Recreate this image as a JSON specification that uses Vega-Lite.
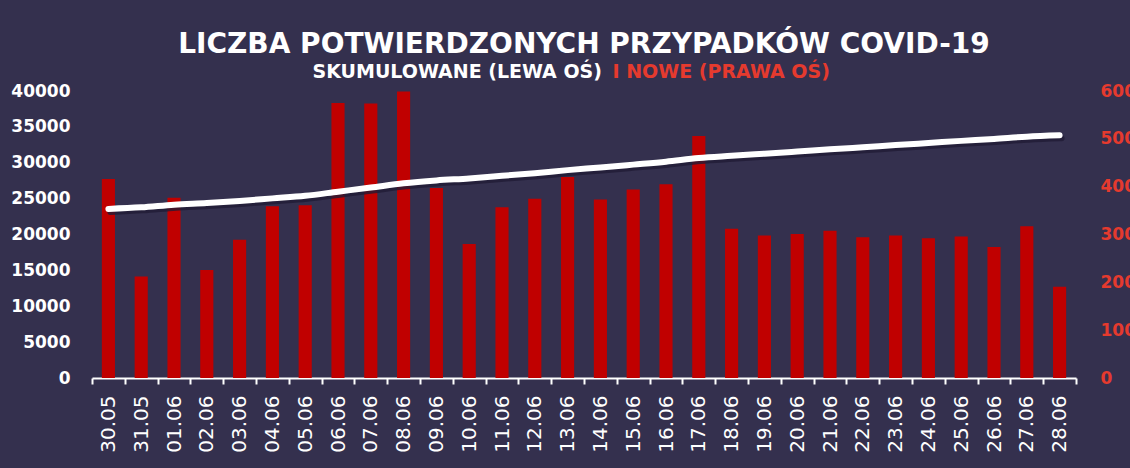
{
  "$schema": "https://vega.github.io/schema/vega-lite/v6.json",
  "width": 984,
  "height": 287,
  "autosize": {"type": "none"},
  "padding": {"left": 92, "top": 91, "right": 54, "bottom": 90},
  "background": "#34304e",
  "config": {"view": {"stroke": null}},
  "title": {
    "text": "LICZBA POTWIERDZONYCH PRZYPADKÓW COVID-19",
    "font": "DejaVu Sans",
    "fontWeight": "bold",
    "fontSize": 28,
    "color": "#ffffff",
    "anchor": "middle",
    "offset": 3
  },
  "data": {
    "values": [
      {"data": "30.05", "nowe": 416, "skumulowane": 23571},
      {"data": "31.05", "nowe": 212, "skumulowane": 23783},
      {"data": "01.06", "nowe": 377, "skumulowane": 24160},
      {"data": "02.06", "nowe": 226, "skumulowane": 24386},
      {"data": "03.06", "nowe": 289, "skumulowane": 24675},
      {"data": "04.06", "nowe": 359, "skumulowane": 25034},
      {"data": "05.06", "nowe": 361, "skumulowane": 25395},
      {"data": "06.06", "nowe": 575, "skumulowane": 25970},
      {"data": "07.06", "nowe": 574, "skumulowane": 26544},
      {"data": "08.06", "nowe": 599, "skumulowane": 27143},
      {"data": "09.06", "nowe": 397, "skumulowane": 27540},
      {"data": "10.06", "nowe": 280, "skumulowane": 27820},
      {"data": "11.06", "nowe": 357, "skumulowane": 28177},
      {"data": "12.06", "nowe": 375, "skumulowane": 28552},
      {"data": "13.06", "nowe": 420, "skumulowane": 28972},
      {"data": "14.06", "nowe": 373, "skumulowane": 29345},
      {"data": "15.06", "nowe": 394, "skumulowane": 29739},
      {"data": "16.06", "nowe": 405, "skumulowane": 30144},
      {"data": "17.06", "nowe": 506, "skumulowane": 30650},
      {"data": "18.06", "nowe": 312, "skumulowane": 30962},
      {"data": "19.06", "nowe": 298, "skumulowane": 31260},
      {"data": "20.06", "nowe": 301, "skumulowane": 31561},
      {"data": "21.06", "nowe": 308, "skumulowane": 31869},
      {"data": "22.06", "nowe": 294, "skumulowane": 32163},
      {"data": "23.06", "nowe": 298, "skumulowane": 32461},
      {"data": "24.06", "nowe": 292, "skumulowane": 32753},
      {"data": "25.06", "nowe": 296, "skumulowane": 33049},
      {"data": "26.06", "nowe": 274, "skumulowane": 33323},
      {"data": "27.06", "nowe": 317, "skumulowane": 33640},
      {"data": "28.06", "nowe": 191, "skumulowane": 33831}
    ]
  },
  "encoding": {
    "x": {
      "field": "data",
      "type": "nominal",
      "sort": null,
      "scale": {"paddingInner": 0, "paddingOuter": 0},
      "axis": {
        "title": null,
        "tickBand": "extent",
        "domainColor": "#ffffff",
        "domainWidth": 2,
        "tickColor": "#ffffff",
        "tickWidth": 2,
        "tickSize": 6,
        "labelColor": "#ffffff",
        "labelFont": "DejaVu Sans",
        "labelFontSize": 20,
        "labelAngle": 270,
        "labelPadding": 11
      }
    }
  },
  "layer": [
    {
      "mark": {"type": "bar", "color": "#c00000", "width": {"band": 0.4}},
      "encoding": {
        "y": {
          "field": "nowe",
          "type": "quantitative",
          "scale": {"domain": [0, 600], "nice": false},
          "axis": {
            "orient": "right",
            "values": [0, 100, 200, 300, 400, 500, 600],
            "format": "d",
            "grid": false,
            "domain": false,
            "ticks": false,
            "tickSize": 0,
            "labelColor": "#e53a2e",
            "labelFont": "DejaVu Sans",
            "labelFontWeight": "bold",
            "labelFontSize": 17,
            "labelPadding": 24,
            "title": "I NOWE (PRAWA OŚ)",
            "titleColor": "#e53a2e",
            "titleFont": "DejaVu Sans",
            "titleFontWeight": "bold",
            "titleFontSize": 19,
            "titleAngle": 0,
            "titleAlign": "left",
            "titleBaseline": "alphabetic",
            "titleX": -464,
            "titleY": -14
          }
        }
      }
    },
    {
      "encoding": {
        "y": {
          "field": "skumulowane",
          "type": "quantitative",
          "scale": {"domain": [0, 40000], "nice": false},
          "axis": {
            "orient": "left",
            "values": [0, 5000, 10000, 15000, 20000, 25000, 30000, 35000, 40000],
            "format": "d",
            "grid": false,
            "domain": false,
            "ticks": false,
            "tickSize": 0,
            "labelColor": "#ffffff",
            "labelFont": "DejaVu Sans",
            "labelFontWeight": "bold",
            "labelFontSize": 17,
            "labelPadding": 22,
            "title": "SKUMULOWANE (LEWA OŚ)",
            "titleColor": "#ffffff",
            "titleFont": "DejaVu Sans",
            "titleFontWeight": "bold",
            "titleFontSize": 19,
            "titleAngle": 0,
            "titleAlign": "left",
            "titleBaseline": "alphabetic",
            "titleX": 220,
            "titleY": -14
          }
        }
      },
      "layer": [
        {
          "mark": {"type": "line", "color": "#201c36", "strokeWidth": 6, "strokeCap": "round", "interpolate": "monotone", "xOffset": 2, "yOffset": 3, "opacity": 0.8}
        },
        {
          "mark": {"type": "line", "color": "#ffffff", "strokeWidth": 6, "strokeCap": "round", "interpolate": "monotone"}
        }
      ]
    }
  ],
  "resolve": {"scale": {"y": "independent"}}
}
